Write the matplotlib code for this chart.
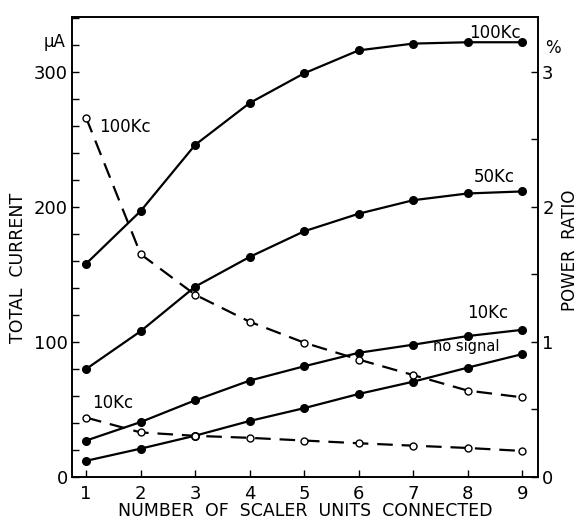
import matplotlib
matplotlib.use("Agg")
import matplotlib.pyplot as plt

units = [1, 2, 3, 4, 5, 6, 7, 8, 9]
# total current (uA), solid lines
cur_100kc = [158, 197, 246, 277, 299, 316, 321, 322, 322]
cur_50kc = [80, 108, 141, 163, 182, 195, 205, 210, 211.5]
cur_10kc = [27, 40.7, 56.8, 71.4, 82, 92, 98, 104.4, 109]
cur_nosig = [12, 21, 30.6, 41.5, 51, 61.5, 70.6, 81, 91]
# power ratio (%), dashed lines
pr_100kc = [2.66, 1.65, 1.35, 1.15, 0.995, 0.87, 0.755, 0.64, 0.59]
pr_10kc = [0.44, 0.33, 0.305, 0.29, 0.27, 0.25, 0.232, 0.215, 0.193]

left_ticks = [0, 100, 200, 300]
right_ticks = [0, 1, 2, 3]

plt.rcParams['font.family'] = ['DejaVu Sans']

fig = plt.figure(figsize=(5.82, 5.23), dpi=100)
ax = fig.add_axes([72/582, 1-477/523, (538-72)/582, (477-17)/523])
ax2 = ax.twinx()

k = dict(color='black', lw=1.6, zorder=3)
for ys in [cur_100kc, cur_50kc, cur_10kc, cur_nosig]:
    ax.plot(units, ys, marker='o', ms=5.5, mfc='black', mec='black', **k)
for ys in [pr_100kc, pr_10kc]:
    ax2.plot(units, ys, marker='o', ms=5, mfc='white', mec='black', mew=1.0,
             dashes=(7, 4), **k)

ax.set_xlim(0.74, 9.29)
ax.set_ylim(0, 340.7)
ax2.set_ylim(0, 3.407)

ax.set_xticks(units)
ax.set_yticks(range(0, 341, 20), minor=False)
ax.set_yticklabels(['' if v not in left_ticks else str(v) for v in range(0, 341, 20)])
ax2.set_yticks([0, 0.5, 1, 1.5, 2, 2.5, 3])
ax2.set_yticklabels([str(v) if v in right_ticks else '' for v in [0, 0.5, 1, 1.5, 2, 2.5, 3]])

for a in (ax, ax2):
    a.tick_params(direction='in', length=5, width=1, labelsize=13, pad=3)
    for s in a.spines.values():
        s.set_linewidth(1.2)
ax.tick_params(axis='x', pad=6)

ax.text(-0.015, 322, 'µA', transform=ax.get_yaxis_transform(), ha='right', va='center', fontsize=12)
ax2.text(1.015, 3.18, '%', transform=ax2.get_yaxis_transform(), ha='left', va='center', fontsize=12)

ax.set_ylabel('TOTAL  CURRENT', fontsize=12.5)
ax.yaxis.set_label_coords((27-72)/466, (477-268)/460)
ax2.set_ylabel('POWER  RATIO', fontsize=12, rotation=90)
ax2.yaxis.set_label_coords((561-72)/466, (477-250)/460)
ax.set_xlabel('NUMBER  OF  SCALER  UNITS  CONNECTED', fontsize=12.5)
ax.xaxis.set_label_coords((305-72)/466, (477-502)/460)

def lab(x, y, s, size=12):
    fig.text(x/582, 1-y/523, s, fontsize=size, ha='left', va='center')

lab(99, 127, '100Kc')
lab(469, 33, '100Kc')
lab(474, 177, '50Kc')
lab(467, 313, '10Kc')
lab(433, 347, 'no signal', 10.5)
lab(92, 403, '10Kc')

fig.savefig('out.png', dpi=100)
